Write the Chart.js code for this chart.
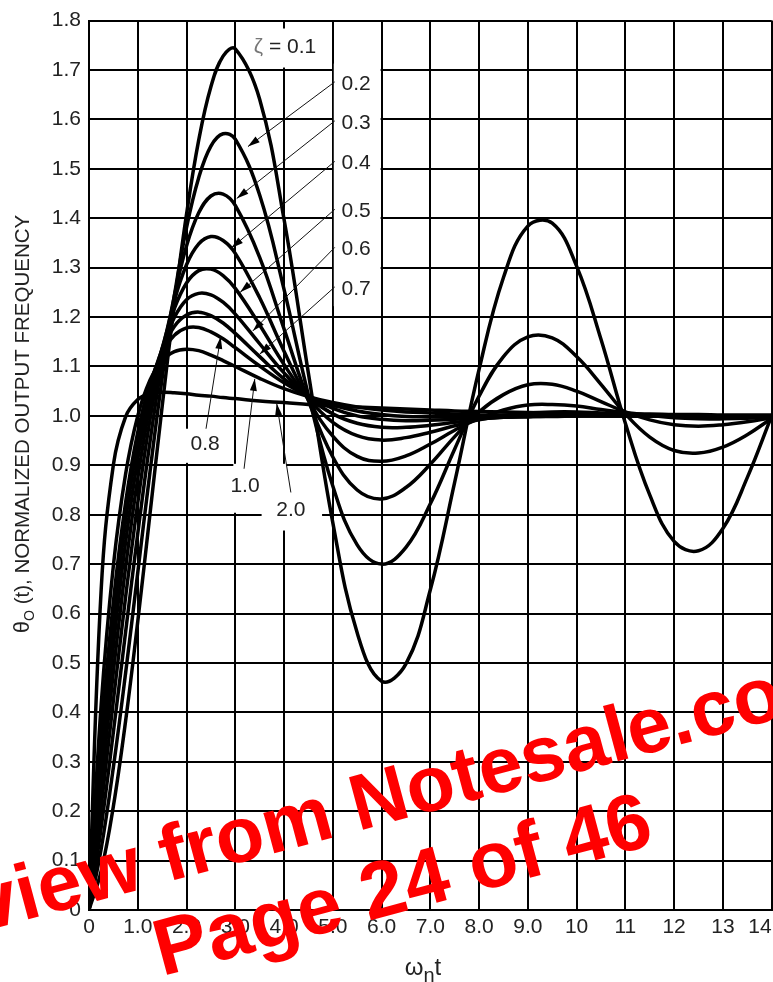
<!DOCTYPE html>
<html><head><meta charset="utf-8">
<script src="https://cdn.jsdelivr.net/npm/chart.js@4.4.1/dist/chart.umd.min.js"></script>
<style>
html,body{margin:0;padding:0;background:#fff;overflow:hidden;width:773px;height:982px;}
#wrap{position:absolute;left:0;top:0;width:800px;height:982px;}
canvas{display:block;}
</style></head><body>
<div id="wrap"><canvas id="c" width="800" height="982"></canvas></div>
<script>
// ---- data ----
const t = [0,0.25,0.5,0.75,1,1.25,1.5,1.75,2,2.25,2.5,2.75,3,3.5,4,4.5,5,5.5,6,6.5,7,7.5,8,8.5,9,9.5,10,10.5,11,11.5,12,12.5,13,13.5,14];
const zeta01 = [0,0.079,0.210,0.382,0.584,0.801,1.019,1.226,1.408,1.558,1.666,1.728,1.743,1.641,1.398,1.086,0.784,0.561,0.463,0.498,0.648,0.866,1.094,1.280,1.384,1.390,1.303,1.155,0.985,0.840,0.746,0.727,0.772,0.875,1.000];
const zeta02 = [0,0.124,0.289,0.479,0.683,0.886,1.076,1.243,1.381,1.482,1.546,1.571,1.560,1.447,1.256,1.042,0.858,0.739,0.700,0.734,0.822,0.933,1.040,1.120,1.160,1.158,1.120,1.064,1.004,0.957,0.930,0.925,0.937,0.962,0.995];
const zeta03 = [0,0.167,0.360,0.562,0.762,0.947,1.110,1.243,1.344,1.411,1.445,1.449,1.426,1.321,1.176,1.031,0.917,0.850,0.832,0.855,0.902,0.958,1.008,1.043,1.063,1.064,1.050,1.029,1.008,0.992,0.982,0.979,0.982,0.988,0.996];
const zeta04 = [0,0.209,0.424,0.633,0.824,0.992,1.128,1.233,1.306,1.348,1.363,1.355,1.329,1.239,1.131,1.032,0.959,0.918,0.908,0.919,0.943,0.971,0.995,1.012,1.022,1.023,1.020,1.013,1.007,1.001,0.996,0.994,0.994,0.995,0.997];
const zeta05 = [0,0.248,0.482,0.693,0.874,1.022,1.136,1.217,1.269,1.294,1.297,1.284,1.258,1.184,1.104,1.035,0.987,0.960,0.951,0.956,0.967,0.980,0.992,1.001,1.006,1.008,1.008,1.006,1.004,1.002,1.000,0.999,0.999,0.999,0.999];
const zeta06 = [0,0.285,0.534,0.744,0.913,1.043,1.137,1.199,1.235,1.248,1.245,1.230,1.206,1.146,1.087,1.038,1.004,0.985,0.977,0.977,0.981,0.987,0.993,0.997,1.000,1.002,1.002,1.002,1.002,1.001,1.001,1.000,1.000,1.000,1.000];
const zeta07 = [0,0.320,0.581,0.787,0.944,1.057,1.134,1.181,1.204,1.210,1.203,1.188,1.167,1.120,1.075,1.040,1.015,1.000,0.993,0.990,0.991,0.993,0.995,0.997,0.998,1.000,1.000,1.000,1.000,1.000,1.000,1.000,1.000,1.000,1.000];
const zeta08 = [0,0.354,0.624,0.824,0.967,1.065,1.127,1.163,1.178,1.179,1.170,1.156,1.138,1.101,1.067,1.040,1.022,1.010,1.003,0.999,0.998,0.997,0.998,0.998,0.999,0.999,1.000,1.000,1.000,1.000,1.000,1.000,1.000,1.000,1.000];
const zeta10 = [0,0.416,0.697,0.882,1.000,1.072,1.112,1.130,1.135,1.132,1.123,1.112,1.100,1.076,1.055,1.039,1.027,1.018,1.012,1.008,1.006,1.004,1.002,1.002,1.001,1.001,1.000,1.000,1.000,1.000,1.000,1.000,1.000,1.000,1.000];
const zeta20 = [0,0.649,0.901,0.998,1.033,1.045,1.048,1.047,1.045,1.042,1.040,1.037,1.035,1.030,1.027,1.023,1.020,1.018,1.016,1.014,1.012,1.010,1.009,1.008,1.007,1.006,1.005,1.005,1.004,1.004,1.003,1.003,1.002,1.002,1.002];
const seriesNames = ['0.1','0.2','0.3','0.4','0.5','0.6','0.7','0.8','1.0','2.0'];
const seriesValues = [zeta01,zeta02,zeta03,zeta04,zeta05,zeta06,zeta07,zeta08,zeta10,zeta20];
const xTickLabels = ['0','1.0','2.0','3.0','4.0','5.0','6.0','7.0','8.0','9.0','10','11','12','13','14\u2007\u2007'];
const yTickLabels = ['0','0.1','0.2','0.3','0.4','0.5','0.6','0.7','0.8','0.9','1.0','1.1','1.2','1.3','1.4','1.5','1.6','1.7','1.8'];

// ---- annotation placement (data units) ----
const FAM = '"Liberation Sans", Arial, Helvetica, sans-serif';
const TXT = '#222';
const whiteBoxes = [
  [3.29,4.75,1.784,1.705],
  [5.02,5.98,1.713,1.222],
  [1.97,2.79,0.974,0.905],
  [2.96,4.04,0.903,0.804],
  [3.54,4.78,0.836,0.768]
];
// [label, textX, textY, align, startX, startY, tipX, tipY]
const callouts = [
  ['0.2',5.18,1.671,'left',5.04,1.676,3.26,1.545],
  ['0.3',5.18,1.592,'left',5.04,1.597,3.03,1.440],
  ['0.4',5.18,1.511,'left',5.04,1.515,2.92,1.340],
  ['0.5',5.18,1.414,'left',5.04,1.418,3.10,1.250],
  ['0.6',5.18,1.337,'left',5.04,1.341,3.36,1.172],
  ['0.7',5.18,1.257,'left',5.04,1.261,3.50,1.125],
  ['0.8',2.38,0.943,'center',2.40,0.974,2.70,1.160],
  ['1.0',3.20,0.857,'center',3.18,0.893,3.40,1.075],
  ['2.0',4.14,0.810,'center',4.14,0.845,3.85,1.025]
];

function richText(ctx, parts, cx, cy) {
  let total = 0;
  for (const p of parts) { ctx.font = p.size + 'px ' + FAM; p.w = ctx.measureText(p.text).width; total += p.w; }
  let x = cx - total / 2;
  for (const p of parts) { ctx.font = p.size + 'px ' + FAM; ctx.fillText(p.text, x, cy + (p.dy || 0)); x += p.w; }
}

const annot = {
  id: 'annot',
  beforeDatasetsDraw(chart) {
    const {ctx, scales: {x, y}} = chart;
    ctx.save();
    ctx.fillStyle = '#fff';
    for (const b of whiteBoxes) {
      const x0 = x.getPixelForValue(b[0]), x1 = x.getPixelForValue(b[1]);
      const y0 = y.getPixelForValue(b[2]), y1 = y.getPixelForValue(b[3]);
      ctx.fillRect(Math.min(x0,x1), Math.min(y0,y1), Math.abs(x1-x0), Math.abs(y1-y0));
    }
    ctx.restore();
  },
  afterDatasetsDraw(chart) {
    const {ctx, scales: {x, y}} = chart;
    ctx.save();
    ctx.strokeStyle = '#111'; ctx.fillStyle = '#000'; ctx.lineWidth = 1;
    for (const c of callouts) {
      const sx = x.getPixelForValue(c[4]), sy = y.getPixelForValue(c[5]);
      const tx = x.getPixelForValue(c[6]), ty = y.getPixelForValue(c[7]);
      ctx.beginPath(); ctx.moveTo(sx, sy); ctx.lineTo(tx, ty); ctx.stroke();
      const a = Math.atan2(ty - sy, tx - sx), L = 12, W = 3.5;
      ctx.beginPath();
      ctx.moveTo(tx, ty);
      ctx.lineTo(tx - L*Math.cos(a) + W*Math.sin(a), ty - L*Math.sin(a) - W*Math.cos(a));
      ctx.lineTo(tx - L*Math.cos(a) - W*Math.sin(a), ty - L*Math.sin(a) + W*Math.cos(a));
      ctx.closePath(); ctx.fill();
    }
    ctx.fillStyle = TXT; ctx.textBaseline = 'middle';
    ctx.font = '21px ' + FAM;
    for (const c of callouts) {
      ctx.textAlign = c[3];
      ctx.fillText(c[0], x.getPixelForValue(c[1]), y.getPixelForValue(c[2]));
    }
    // zeta = 0.1 label
    ctx.textAlign = 'left';
    const lx = x.getPixelForValue(3.38), ly = y.getPixelForValue(1.747);
    ctx.fillStyle = '#777'; ctx.fillText('\u03B6', lx, ly);
    const zw = ctx.measureText('\u03B6').width;
    ctx.fillStyle = TXT; ctx.fillText(' = 0.1', lx + zw, ly);
    ctx.restore();
  },
  afterDraw(chart) {
    const {ctx} = chart;
    ctx.save();
    ctx.fillStyle = TXT; ctx.textAlign = 'left'; ctx.textBaseline = 'alphabetic';
    // y axis title
    ctx.save();
    ctx.translate(29, 424); ctx.rotate(-Math.PI/2);
    richText(ctx, [{text:'\u03B8', size:22},{text:'O', size:14, dy:5},{text:' (t), NORMALIZED OUTPUT FREQUENCY', size:20.5}], 0, 0);
    ctx.restore();
    // x axis title
    richText(ctx, [{text:'\u03C9', size:24},{text:'n', size:20, dy:7},{text:'t', size:24}], 423, 975);
    ctx.restore();
    // watermark
    ctx.save();
    ctx.fillStyle = '#ff0000';
    ctx.font = 'bold 79px ' + FAM;
    ctx.textBaseline = 'alphabetic';
    ctx.translate(358, 831); ctx.rotate(-15*Math.PI/180);
    const pre = ctx.measureText('Preview from ').width;
    ctx.textAlign = 'left';
    ctx.fillText('Preview from Notesale.co.uk', -pre, 0);
    ctx.restore();
    ctx.save();
    ctx.fillStyle = '#ff0000';
    ctx.font = 'bold 80px ' + FAM;
    ctx.translate(656, 844); ctx.rotate(-15*Math.PI/180);
    ctx.textAlign = 'right';
    ctx.fillText('Page 24 of 46', 0, 0);
    ctx.restore();
  }
};

new Chart(document.getElementById('c').getContext('2d'), {
  type: 'line',
  data: {
    datasets: seriesNames.map((n, k) => ({
      label: '\u03B6 = ' + n,
      data: t.map((tv, i) => ({x: tv, y: seriesValues[k][i]})),
      borderColor: '#000', borderWidth: 3.5, pointRadius: 0, tension: 0.4, fill: false
    }))
  },
  options: {
    responsive: false, animation: false, devicePixelRatio: 1,
    layout: {padding: {top: 19, right: 26, left: 0, bottom: 0}},
    plugins: {legend: {display: false}, tooltip: {enabled: false}},
    scales: {
      x: {
        type: 'linear', min: 0, max: 14,
        ticks: {stepSize: 1, autoSkip: false, maxRotation: 0, padding: 5, color: TXT,
                font: {size: 21, family: FAM}, callback: (v, i) => xTickLabels[i]},
        grid: {color: '#000', lineWidth: 2, drawTicks: false},
        border: {color: '#000', width: 2},
        afterFit: s => { s.height = 72; }
      },
      y: {
        min: 0, max: 1.8,
        ticks: {stepSize: 0.1, autoSkip: false, padding: 8, color: TXT,
                font: {size: 21, family: FAM}, callback: (v, i) => yTickLabels[i]},
        grid: {color: '#000', lineWidth: 2, drawTicks: false},
        border: {color: '#000', width: 2},
        afterFit: s => { s.width = 89; }
      }
    }
  },
  plugins: [annot]
});
</script>
</body></html>
